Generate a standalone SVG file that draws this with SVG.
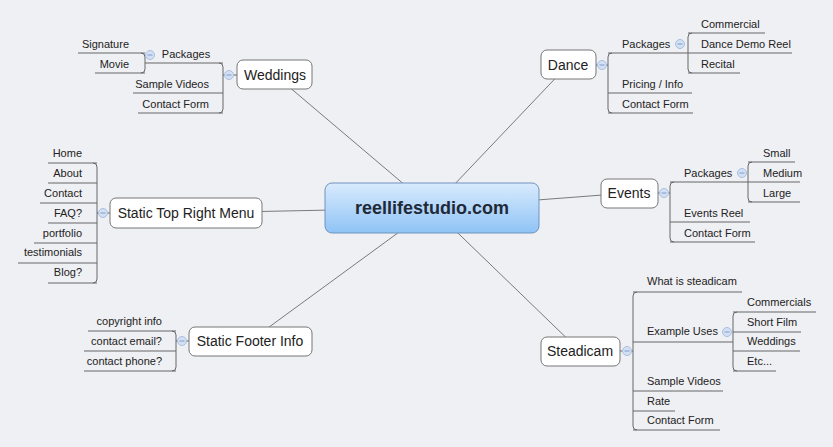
<svg xmlns="http://www.w3.org/2000/svg" width="833" height="447" viewBox="0 0 833 447">
<style>
text{font-family:"Liberation Sans",Arial,sans-serif;fill:#222}
.t{font-size:11px}
.n{font-size:14px;text-anchor:middle}
.r{text-anchor:end}
.box{fill:#fff;stroke:#777;stroke-width:1}
.ln{fill:none;stroke:#666;stroke-width:1}
.mn{fill:none;stroke:#7a7a7a;stroke-width:1}
.c{fill:#d3e0f3;stroke:#a9bfe0;stroke-width:1}
.cm{stroke:#7f9ccf;stroke-width:1}
</style>
<defs>
<linearGradient id="g" x1="0" y1="0" x2="0" y2="1">
<stop offset="0" stop-color="#d9ebfd"/><stop offset="1" stop-color="#8fc3f5"/>
</linearGradient>
<g id="col"><circle class="c" r="4.5"/><line class="cm" x1="-2.5" x2="2.5"/></g>
</defs>
<rect width="833" height="447" fill="#eff0f4"/>
<g id="connectors">
<line class="mn" x1="432" y1="208" x2="275" y2="75"/>
<line class="mn" x1="432" y1="208" x2="568" y2="65"/>
<line class="mn" x1="432" y1="208" x2="629" y2="193"/>
<line class="mn" x1="432" y1="208" x2="580" y2="351"/>
<line class="mn" x1="432" y1="208" x2="186" y2="213"/>
<line class="mn" x1="432" y1="208" x2="250" y2="341"/>
<!-- Weddings -->
<path class="ln" d="M237 75H223M219 63Q223 63 223 67V109Q223 113 219 113M223 63H145M223 93H133M223 113H138M141 53Q145 53 145 57V69Q145 73 141 73M145 53H78M145 73H95"/>
<!-- Dance -->
<path class="ln" d="M596 65H608M612 53Q608 53 608 57V109Q608 113 612 113M608 53H688M608 93H692M608 113H693M692 33Q688 33 688 37V69Q688 73 692 73M688 33H765M688 53H792M688 73H740"/>
<!-- Events -->
<path class="ln" d="M658 193H670M674 182Q670 182 670 186V238Q670 242 674 242M670 182H748M670 222H750M670 242H755M752 162Q748 162 748 166V198Q748 202 752 202M748 162H795M748 182H800M748 202H800"/>
<!-- Steadicam -->
<path class="ln" d="M620 351H633M637 292Q633 292 633 296V426Q633 430 637 430M633 292H742M633 342H733M633 391H723M633 411H675M633 430H720M737 312Q733 312 733 316V367Q733 371 737 371M733 312H816M733 332H801M733 351H800M733 371H776"/>
<!-- Static Top Right Menu -->
<path class="ln" d="M110 213H97M93 163Q97 163 97 167V279Q97 283 93 283M97 163H48M97 183H48M97 203H40M97 223H48M97 243H34M97 263H18M97 283H48"/>
<!-- Footer -->
<path class="ln" d="M189 341H176M172 331Q176 331 176 335V367Q176 371 172 371M176 331H88M176 351H84M176 371H84"/>
</g>
<g id="central">
<rect x="325" y="183" width="214" height="50" rx="7" fill="url(#g)" stroke="#6f93bd"/>
<text x="432" y="214" style="font-size:18px;font-weight:bold;text-anchor:middle;fill:#1f2a38">reellifestudio.com</text>
</g>
<g id="weddings">
<rect class="box" x="237" y="60" width="75" height="29" rx="6"/>
<text class="n" x="275" y="80">Weddings</text>
<use href="#col" x="229" y="75"/><use href="#col" x="150" y="55"/>
<text class="t" x="186" y="58" text-anchor="middle">Packages</text>
<text class="t r" x="129" y="48">Signature</text>
<text class="t r" x="129" y="68">Movie</text>
<text class="t r" x="209" y="88">Sample Videos</text>
<text class="t r" x="209" y="108">Contact Form</text>
</g>
<g id="dance">
<rect class="box" x="541" y="50" width="55" height="29" rx="6"/>
<text class="n" x="568" y="70">Dance</text>
<use href="#col" x="602" y="65"/><use href="#col" x="680" y="44"/>
<text class="t" x="622" y="48">Packages</text>
<text class="t" x="701" y="28">Commercial</text>
<text class="t" x="701" y="48">Dance Demo Reel</text>
<text class="t" x="701" y="68">Recital</text>
<text class="t" x="622" y="88">Pricing / Info</text>
<text class="t" x="622" y="108">Contact Form</text>
</g>
<g id="events">
<rect class="box" x="601" y="179" width="57" height="29" rx="6"/>
<text class="n" x="629" y="198">Events</text>
<use href="#col" x="664" y="193"/><use href="#col" x="742" y="173"/>
<text class="t" x="684" y="177">Packages</text>
<text class="t" x="763" y="157">Small</text>
<text class="t" x="763" y="177">Medium</text>
<text class="t" x="763" y="197">Large</text>
<text class="t" x="684" y="217">Events Reel</text>
<text class="t" x="684" y="237">Contact Form</text>
</g>
<g id="steadicam">
<rect class="box" x="541" y="337" width="79" height="29" rx="6"/>
<text class="n" x="580" y="356">Steadicam</text>
<use href="#col" x="627" y="351"/><use href="#col" x="727" y="332"/>
<text class="t" x="647" y="285">What is steadicam</text>
<text class="t" x="647" y="335">Example Uses</text>
<text class="t" x="747" y="306">Commercials</text>
<text class="t" x="747" y="326">Short Film</text>
<text class="t" x="747" y="345">Weddings</text>
<text class="t" x="747" y="365">Etc...</text>
<text class="t" x="647" y="385">Sample Videos</text>
<text class="t" x="647" y="405">Rate</text>
<text class="t" x="647" y="424">Contact Form</text>
</g>
<g id="menu">
<rect class="box" x="110" y="198" width="152" height="30" rx="6"/>
<text class="n" x="186" y="218">Static Top Right Menu</text>
<use href="#col" x="103" y="213"/>
<text class="t r" x="82" y="157">Home</text>
<text class="t r" x="82" y="177">About</text>
<text class="t r" x="82" y="197">Contact</text>
<text class="t r" x="82" y="217">FAQ?</text>
<text class="t r" x="82" y="237">portfolio</text>
<text class="t r" x="82" y="256">testimonials</text>
<text class="t r" x="82" y="276">Blog?</text>
</g>
<g id="footer">
<rect class="box" x="189" y="327" width="123" height="29" rx="6"/>
<text class="n" x="250" y="346">Static Footer Info</text>
<use href="#col" x="182" y="341"/>
<text class="t r" x="162" y="325">copyright info</text>
<text class="t r" x="162" y="345">contact email?</text>
<text class="t r" x="162" y="365">contact phone?</text>
</g>
</svg>
